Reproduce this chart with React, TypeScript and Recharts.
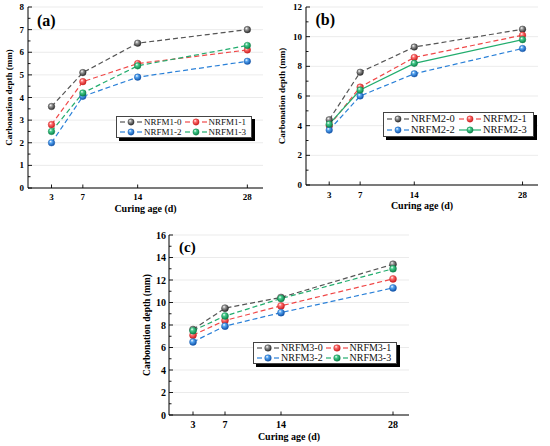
import React from 'react';
import { LineChart, Line, XAxis, YAxis, CartesianGrid } from 'recharts';

const ages = [3, 7, 14, 28];
const xTicks = [3, 7, 14, 28];

const namesA = ['NRFM1-0', 'NRFM1-1', 'NRFM1-2', 'NRFM1-3'];
const a0 = [3.6, 5.1, 6.4, 7.0];
const a1 = [2.8, 4.7, 5.5, 6.1];
const a2 = [2.0, 4.05, 4.9, 5.6];
const a3 = [2.5, 4.2, 5.4, 6.3];
const yMajorA = [0, 1, 2, 3, 4, 5, 6, 7, 8];

const namesB = ['NRFM2-0', 'NRFM2-1', 'NRFM2-2', 'NRFM2-3'];
const b0 = [4.4, 7.6, 9.3, 10.5];
const b1 = [4.0, 6.6, 8.6, 10.1];
const b2 = [3.7, 6.0, 7.5, 9.2];
const b3 = [4.1, 6.4, 8.2, 9.8];
const yMajorB = [0, 2, 4, 6, 8, 10, 12];

const namesC = ['NRFM3-0', 'NRFM3-1', 'NRFM3-2', 'NRFM3-3'];
const c0 = [7.6, 9.5, 10.45, 13.4];
const c1 = [7.1, 8.4, 9.7, 12.1];
const c2 = [6.5, 7.9, 9.1, 11.3];
const c3 = [7.5, 8.8, 10.35, 13.0];
const yMajorC = [0, 2, 4, 6, 8, 10, 12, 14, 16];

const palette = [
  { line: '#555555', light: '#9a9a9a', dark: '#2e2e2e' },
  { line: '#f04848', light: '#ff7070', dark: '#cc1f1f' },
  { line: '#2a80d8', light: '#56a6f2', dark: '#1254aa' },
  { line: '#22ad6e', light: '#45cc8c', dark: '#0c8249' },
];

const FONT = '"Liberation Serif", "Times New Roman", serif';

function buildRows(series: number[][]) {
  return ages.map((age, i) => {
    const row: any = { age };
    series.forEach((s, k) => {
      row['s' + k] = s[i];
    });
    return row;
  });
}

function Sphere({ cx, cy, r, k, id }: any) {
  const c = palette[k];
  return (
    <g>
      <defs>
        <radialGradient id={id} cx="0.4" cy="0.38" r="0.62" fx="0.36" fy="0.3">
          <stop offset="0" stopColor="#ffffff" />
          <stop offset="0.35" stopColor={c.light} />
          <stop offset="1" stopColor={c.dark} />
        </radialGradient>
      </defs>
      <circle cx={cx} cy={cy} r={r} fill={`url(#${id})`} stroke={c.dark} strokeWidth={0.4} />
    </g>
  );
}

function LegendSample({ k, solid, r }: any) {
  const c = palette[k];
  const id = `lg-${k}-${solid ? 's' : 'd'}-${Math.round(r * 10)}`;
  return (
    <svg width={22} height={10} style={{ display: 'block', flex: '0 0 auto' }}>
      {solid ? (
        <line x1={0} y1={5} x2={22} y2={5} stroke={c.line} strokeWidth={1.2} />
      ) : (
        <g>
          <line x1={0} y1={5} x2={5} y2={5} stroke={c.line} strokeWidth={1.2} />
          <line x1={17} y1={5} x2={22} y2={5} stroke={c.line} strokeWidth={1.2} />
        </g>
      )}
      <Sphere cx={11} cy={5} r={r} k={k} id={id} />
    </svg>
  );
}

type PanelCfg = {
  key: string;
  left: number;
  top: number;
  width: number;
  height: number;
  margin: { top: number; right: number; left: number; bottom: number };
  yWidth: number;
  xHeight: number;
  yMax: number;
  yMajor: number[];
  names: string[];
  series: number[][];
  solid: boolean[];
  tickFs: number;
  tickGap: number;
  xTickDy: number;
  xTitleDy: number;
  yTitleX: number;
  yTitleFs: number;
  r: number;
  letter: string;
  letterX: number;
  letterY: number;
  letterFs: number;
  legend: { left: number; top: number; width: number; height: number; fs: number };
};

function Panel({ cfg }: { cfg: PanelCfg }) {
  const rows = buildRows(cfg.series);
  const step = cfg.yMajor[1] - cfg.yMajor[0];
  const minors = cfg.yMajor.slice(0, -1).map((v) => v + step / 2);
  const allTicks = [...cfg.yMajor, ...minors].sort((p, q) => p - q);

  const yTick = (props: any) => {
    const { x, y, payload } = props;
    const v = payload.value;
    const major = cfg.yMajor.some((m) => Math.abs(m - v) < 1e-6);
    return (
      <g>
        <line x1={x} y1={y} x2={x + (major ? 4 : 2.5)} y2={y} stroke="#000" strokeWidth={0.9} />
        {major ? (
          <text
            x={x - cfg.tickGap}
            y={y}
            textAnchor="end"
            dominantBaseline="central"
            fontFamily={FONT}
            fontWeight="bold"
            fontSize={cfg.tickFs}
            fill="#000"
          >
            {v}
          </text>
        ) : null}
      </g>
    );
  };

  const xTick = (props: any) => {
    const { x, y, payload } = props;
    return (
      <g>
        <line x1={x} y1={y} x2={x} y2={y - 3.5} stroke="#000" strokeWidth={0.9} />
        <text
          x={x}
          y={y + cfg.xTickDy}
          textAnchor="middle"
          dominantBaseline="central"
          fontFamily={FONT}
          fontWeight="bold"
          fontSize={cfg.tickFs}
          fill="#000"
        >
          {payload.value}
        </text>
      </g>
    );
  };

  const xTitle = (props: any) => {
    const vb = props.viewBox || {};
    return (
      <text
        x={vb.x + vb.width / 2}
        y={vb.y + cfg.xTitleDy}
        textAnchor="middle"
        dominantBaseline="central"
        fontFamily={FONT}
        fontWeight="bold"
        fontSize={10}
        fill="#000"
      >
        Curing age (d)
      </text>
    );
  };

  const yTitle = (props: any) => {
    const vb = props.viewBox || {};
    const tx = vb.x + cfg.yTitleX;
    const ty = vb.y + vb.height / 2;
    return (
      <text
        x={tx}
        y={ty}
        transform={`rotate(-90 ${tx} ${ty})`}
        textAnchor="middle"
        dominantBaseline="central"
        fontFamily={FONT}
        fontWeight="bold"
        fontSize={cfg.yTitleFs}
        fill="#000"
      >
        Carbonation depth (mm)
      </text>
    );
  };

  return (
    <div style={{ position: 'absolute', left: cfg.left, top: cfg.top, width: cfg.width, height: cfg.height }}>
      <LineChart width={cfg.width} height={cfg.height} data={rows} margin={cfg.margin}>
        <CartesianGrid vertical={false} horizontalValues={cfg.yMajor} stroke="#e6e6e6" strokeWidth={0.8} />
        <XAxis
          dataKey="age"
          type="number"
          domain={[0, 30]}
          ticks={xTicks}
          interval={0}
          tickSize={0}
          tickMargin={0}
          tick={xTick}
          tickLine={false}
          height={cfg.xHeight}
          stroke="#000"
          allowDataOverflow
          label={{ content: xTitle }}
        />
        <XAxis
          xAxisId="top"
          orientation="top"
          type="number"
          domain={[0, 30]}
          tick={false}
          tickLine={false}
          height={0}
          stroke="#000"
        />
        <YAxis
          type="number"
          domain={[0, cfg.yMax]}
          ticks={allTicks}
          interval={0}
          tickSize={0}
          tickMargin={0}
          tick={yTick}
          tickLine={false}
          width={cfg.yWidth}
          stroke="#000"
          allowDataOverflow
          label={{ content: yTitle }}
        />
        <YAxis
          yAxisId="right"
          orientation="right"
          type="number"
          domain={[0, cfg.yMax]}
          tick={false}
          tickLine={false}
          width={0}
          stroke="#000"
        />
        {cfg.series.map((_, k) => (
          <Line
            key={k}
            dataKey={'s' + k}
            type="linear"
            stroke={palette[k].line}
            strokeWidth={1.2}
            strokeDasharray={cfg.solid[k] ? undefined : '5 3'}
            isAnimationActive={false}
            activeDot={false}
            dot={(p: any) => (
              <Sphere key={`${cfg.key}-${k}-${p.index}`} cx={p.cx} cy={p.cy} r={cfg.r} k={k} id={`g-${cfg.key}-${k}-${p.index}`} />
            )}
          />
        ))}
      </LineChart>
      <div
        style={{
          position: 'absolute',
          left: cfg.letterX - cfg.left,
          top: cfg.letterY - cfg.top - cfg.letterFs * 0.6,
          fontFamily: FONT,
          fontWeight: 'bold',
          fontSize: cfg.letterFs,
          lineHeight: `${cfg.letterFs * 1.2}px`,
          color: '#000',
          whiteSpace: 'nowrap',
        }}
      >
        {cfg.letter}
      </div>
      <div
        style={{
          position: 'absolute',
          left: cfg.legend.left - cfg.left,
          top: cfg.legend.top - cfg.top,
          width: cfg.legend.width,
          height: cfg.legend.height,
          boxSizing: 'border-box',
          border: '1px solid #444',
          background: '#fff',
          boxShadow: '3px 3px 0 #000',
          display: 'grid',
          gridTemplateColumns: '1fr 1fr',
          alignContent: 'center',
          padding: '0 2px 0 3px',
          fontFamily: FONT,
          fontSize: cfg.legend.fs,
          color: '#111',
        }}
      >
        {cfg.names.map((n, k) => (
          <div key={n} style={{ display: 'flex', alignItems: 'center', height: (cfg.legend.height - 2) / 2, whiteSpace: 'nowrap' }}>
            <LegendSample k={k} solid={cfg.solid[k]} r={cfg.r * 0.95} />
            <span style={{ marginLeft: 2, lineHeight: 1 }}>{n}</span>
          </div>
        ))}
      </div>
    </div>
  );
}

const panelA: PanelCfg = {
  key: 'a', left: 0, top: 0, width: 275, height: 215,
  margin: { top: 7, right: 12, left: 0, bottom: 0 },
  yWidth: 28, xHeight: 27, yMax: 8, yMajor: yMajorA,
  names: namesA, series: [a0, a1, a2, a3], solid: [false, false, false, false],
  tickFs: 9, tickGap: 4, xTickDy: 9, xTitleDy: 20, yTitleX: 8.5, yTitleFs: 9,
  r: 3.3, letter: '(a)', letterX: 37, letterY: 21, letterFs: 16,
  legend: { left: 116, top: 116, width: 136, height: 22, fs: 9 },
};

const panelB: PanelCfg = {
  key: 'b', left: 275, top: 0, width: 275, height: 215,
  margin: { top: 7, right: 12, left: 0, bottom: 0 },
  yWidth: 31, xHeight: 30, yMax: 12, yMajor: yMajorB,
  names: namesB, series: [b0, b1, b2, b3], solid: [false, false, false, true],
  tickFs: 9, tickGap: 4, xTickDy: 10, xTitleDy: 20, yTitleX: 7, yTitleFs: 9,
  r: 3.3, letter: '(b)', letterX: 315.5, letterY: 20, letterFs: 16,
  legend: { left: 383, top: 112, width: 151, height: 25, fs: 10.5 },
};

const panelC: PanelCfg = {
  key: 'c', left: 130, top: 220, width: 290, height: 226,
  margin: { top: 15, right: 11, left: 0, bottom: 0 },
  yWidth: 39, xHeight: 31, yMax: 16, yMajor: yMajorC,
  names: namesC, series: [c0, c1, c2, c3], solid: [false, false, false, false],
  tickFs: 10, tickGap: 3, xTickDy: 9.5, xTitleDy: 21.5, yTitleX: 16.5, yTitleFs: 9.5,
  r: 3.5, letter: '(c)', letterX: 179, letterY: 246.5, letterFs: 15,
  legend: { left: 253, top: 342, width: 144, height: 22, fs: 10 },
};

export default function App() {
  return (
    <div style={{ position: 'absolute', left: 0, top: 0, width: 550, height: 446, background: '#fff', overflow: 'hidden' }}>
      <Panel cfg={panelA} />
      <Panel cfg={panelB} />
      <Panel cfg={panelC} />
    </div>
  );
}
